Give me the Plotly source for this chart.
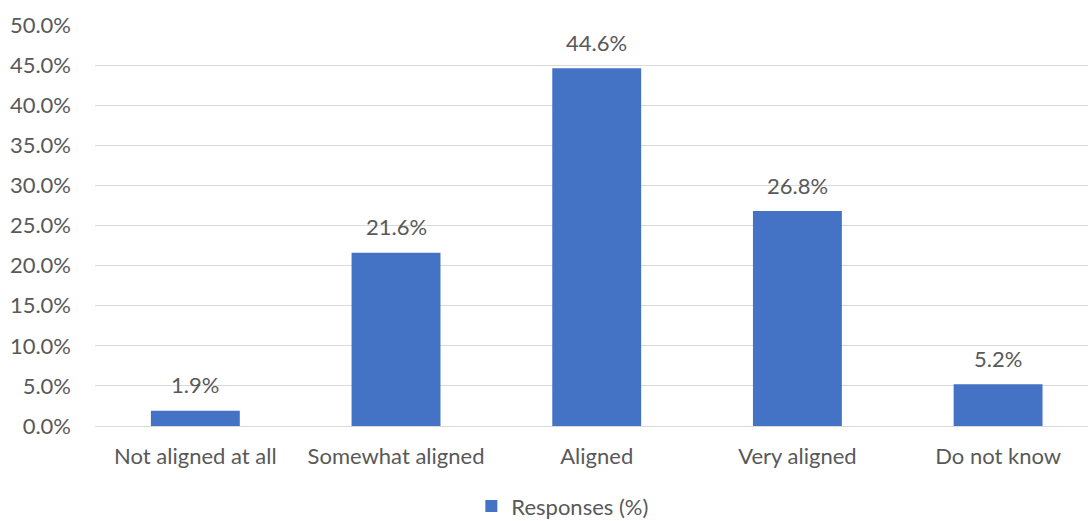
import plotly.graph_objects as go

categories = ["Not aligned at all", "Somewhat aligned", "Aligned", "Very aligned", "Do not know"]
values = [1.9, 21.6, 44.6, 26.8, 5.2]
series_name = "Responses (%)"
y_ticks = [0, 5, 10, 15, 20, 25, 30, 35, 40, 45, 50]
y_tick_labels = [f"{v:.1f}%" for v in y_ticks]

FONT = "Lato"
FS = 22
GREY = "#595959"

fig = go.Figure()
fig.add_trace(go.Bar(
    x=categories, y=values, name=series_name,
    marker=dict(color="#4472C4", line=dict(width=0)),
    showlegend=True,
))
for c, v in zip(categories, values):
    fig.add_annotation(x=c, y=v, text=f"{v:.1f}%", showarrow=False,
                       yanchor="middle", yshift=26,
                       font=dict(family=FONT, size=FS, color=GREY))

fig.update_layout(
    width=1088, height=521,
    margin=dict(l=95, r=0, t=25, b=95, autoexpand=False),
    paper_bgcolor="white", plot_bgcolor="white",
    bargap=0.557,
    font=dict(family=FONT, size=FS, color=GREY),
    xaxis=dict(range=[-0.5, 4.448], showgrid=False, showline=False, ticks="",
               automargin=False,
               tickfont=dict(family=FONT, size=FS, color=GREY), ticklabelstandoff=15),
    yaxis=dict(range=[0, 50], tickvals=y_ticks, ticktext=y_tick_labels,
               showgrid=True, gridcolor="#D9D9D9", gridwidth=1.3,
               zeroline=True, zerolinecolor="#D9D9D9", zerolinewidth=1.3,
               showline=False, ticks="", ticklabelstandoff=23, automargin=False,
               tickfont=dict(family=FONT, size=FS, color=GREY)),
    legend=dict(orientation="h", x=0.379, xanchor="left", y=-0.2, yanchor="middle",
                font=dict(family=FONT, size=FS, color=GREY)),
)

fig.write_html("out.html")
